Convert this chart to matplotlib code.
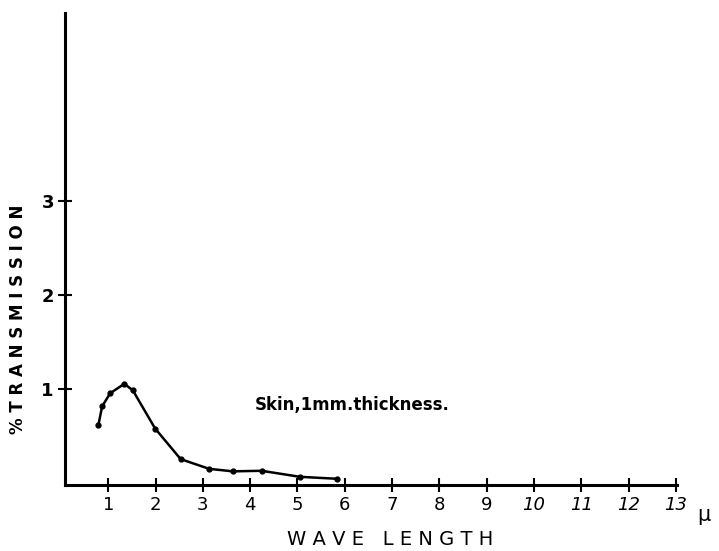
import matplotlib.pyplot as plt

# values
wave_um = [0.79, 0.87, 1.04, 1.34, 1.52, 1.99, 2.53, 3.13, 3.63, 4.24, 5.05, 5.83]
transmission = [0.62, 0.82, 0.96, 1.06, 0.99, 0.585, 0.26, 0.157, 0.13, 0.136, 0.072, 0.051]

x_ticks = list(range(1, 14))
y_ticks = [1, 2, 3]
note = "Skin,1mm.thickness."

fig = plt.figure(figsize=(7.19, 5.51), dpi=100)
ax = fig.add_axes([0.0904, 0.1198, 0.851, 0.8566])

ax.plot(wave_um, transmission, color="black", lw=1.8, marker="o", ms=3.5)

ax.set_xlim(0.085, 13.02)
ax.set_ylim(-0.015, 5.0)

ax.spines["top"].set_visible(False)
ax.spines["right"].set_visible(False)
for s in ("left", "bottom"):
    ax.spines[s].set_linewidth(2.2)

ax.set_xticks(x_ticks)
ax.set_yticks(y_ticks)
ax.set_xticklabels([str(t) for t in x_ticks])
for lab in ax.get_xticklabels():
    if int(lab.get_text()) >= 10:
        lab.set_style("italic")
ax.set_yticklabels([str(t) for t in y_ticks], fontweight="bold")
ax.tick_params(axis="both", direction="inout", length=10, width=1.5,
               labelsize=13, pad=3)

ax.text(4.1, 0.83, note, fontsize=12, fontweight="bold", va="center", ha="left")
ax.text(13.45, -0.33, "μ", fontsize=15, va="center", ha="left", clip_on=False)

fig.text(0.542, 0.004, "W A V E   L E N G T H", fontsize=14, ha="center",
         va="bottom")
fig.text(0.025, 0.42, "% T R A N S M I S S I O N", fontsize=12, rotation=90,
         ha="center", va="center", fontweight="bold")

fig.savefig("out.png", dpi=100)
